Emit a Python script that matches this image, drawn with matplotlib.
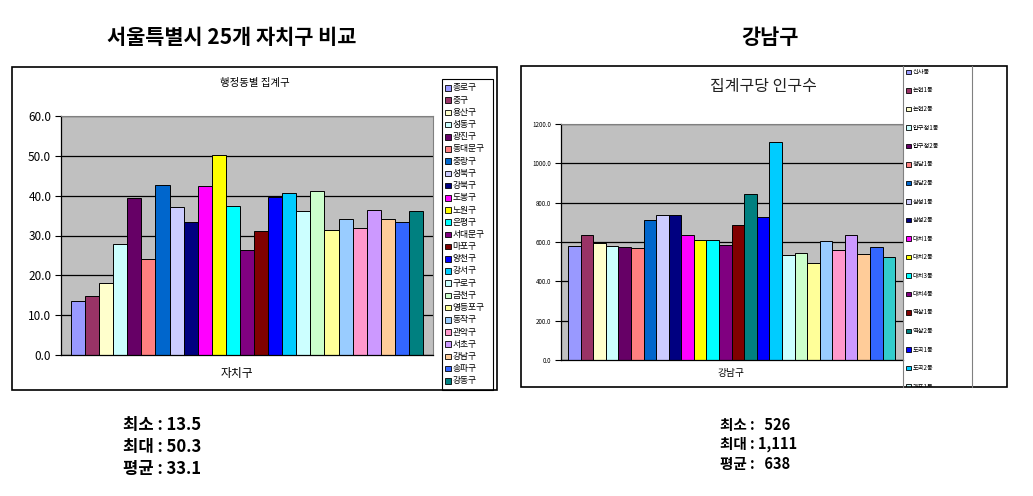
import matplotlib.pyplot as plt
from matplotlib.patches import Rectangle
import numpy as np

plt.rcParams['font.family'] = ['Noto Sans CJK KR', 'DejaVu Sans']

# 서울 25개 자치구 - 행정동별 집계구
gu_names = ['종로구', '중구', '용산구', '성동구', '광진구', '동대문구', '중랑구', '성북구',
            '강북구', '도봉구', '노원구', '은평구', '서대문구', '마포구', '양천구', '강서구',
            '구로구', '금천구', '영등포구', '동작구', '관악구', '서초구', '강남구', '송파구', '강동구']
gu_values = [13.5, 14.8, 18.0, 27.9, 39.4, 24.1, 42.8, 37.1, 33.3, 42.4, 50.3, 37.4, 26.4,
             31.1, 39.7, 40.6, 36.1, 41.1, 31.3, 34.1, 31.8, 36.3, 34.1, 33.3, 36.1]
gu_colors = ['#9999FF', '#993366', '#FFFFCC', '#CCFFFF', '#660066', '#FF8080', '#0066CC', '#CCCCFF',
             '#000080', '#FF00FF', '#FFFF00', '#00FFFF', '#800080', '#800000', '#0000FF', '#00CCFF',
             '#CCFFFF', '#CCFFCC', '#FFFF99', '#99CCFF', '#FF99CC', '#CC99FF', '#FFCC99', '#3366FF', '#008080']

# 강남구 26개 행정동 - 집계구당 인구수
dong_names = ['신사동', '논현1동', '논현2동', '압구정1동', '압구정2동', '청담1동', '청담2동', '삼성1동',
              '삼성2동', '대치1동', '대치2동', '대치3동', '대치4동', '역삼1동', '역삼2동', '도곡1동',
              '도곡2동', '개포1동', '개포2동', '개포3동', '개포4동', '일원본동', '일원1동', '일원2동',
              '수서동', '세곡동']
dong_values = [581, 636, 595, 580, 575, 568, 712, 737, 737, 636, 610, 610, 586, 686, 846, 729,
               1111, 534, 544, 493, 605, 559, 636, 541, 575, 526]
dong_colors = ['#9999FF', '#993366', '#FFFFCC', '#CCFFFF', '#660066', '#FF8080', '#0066CC', '#CCCCFF',
               '#000080', '#FF00FF', '#FFFF00', '#00FFFF', '#800080', '#800000', '#008080', '#0000FF',
               '#00CCFF', '#CCFFFF', '#CCFFCC', '#FFFF99', '#99CCFF', '#FF99CC', '#CC99FF', '#FFCC99',
               '#3366FF', '#33CCCC']

left_stats = ['최소 : 13.5', '최대 : 50.3', '평균 : 33.1']
right_stats = ['최소 :   526', '최대 : 1,111', '평균 :   638']

W, H = 1033, 496
fig = plt.figure(figsize=(W / 100, H / 100), dpi=100)


def rect(x0, y0, x1, y1):
    return [x0 / W, 1 - y1 / H, (x1 - x0) / W, (y1 - y0) / H]


def box(x0, y0, x1, y1, lw=1.2, ec='black'):
    fig.patches.append(Rectangle((x0 / W, 1 - y1 / H), (x1 - x0) / W, (y1 - y0) / H,
                                 transform=fig.transFigure, fill=False, ec=ec, lw=lw))


def vline(x, y0, y1, color='#808080', lw=0.8):
    fig.add_artist(plt.Line2D([x / W, x / W], [1 - y0 / H, 1 - y1 / H],
                              transform=fig.transFigure, color=color, lw=lw))


def bar_chart(ax, values, colors, ymax, step, fsize, pad_l, pad_r):
    n = len(values)
    x = np.arange(n)
    ax.set_facecolor('#C0C0C0')
    ax.set_axisbelow(True)
    ax.yaxis.grid(True, color='black', lw=0.9)
    ax.bar(x, values, width=1.0, color=colors, edgecolor='black', lw=0.7)
    ax.set_xlim(-0.5 - pad_l, n - 0.5 + pad_r)
    ax.set_ylim(0, ymax)
    ax.set_yticks(np.arange(0, ymax + step / 2, step))
    ax.set_yticklabels(['%.1f' % v for v in np.arange(0, ymax + step / 2, step)], fontsize=fsize)
    ax.set_xticks([])
    ax.tick_params(axis='y', direction='out', length=4, width=0.8, pad=3)
    for s in ['top', 'right']:
        ax.spines[s].set_color('#808080')
        ax.spines[s].set_linewidth(0.8)
    ax.spines['left'].set_linewidth(0.9)
    ax.spines['bottom'].set_linewidth(0.9)


def legend(x0, y0, x1, y1, names, colors, first_y, spacing, sq, fsize):
    lax = fig.add_axes(rect(x0, y0, x1, y1))
    lax.set_xlim(0, x1 - x0)
    lax.set_ylim(y1 - y0, 0)
    lax.axis('off')
    for i, (nm, c) in enumerate(zip(names, colors)):
        y = first_y + i * spacing
        if y > (y1 - y0) + sq:
            break  # 범례 상자 밖은 잘림
        lax.add_patch(Rectangle((3, y - sq / 2), sq, sq, fc=c, ec='black', lw=0.6, clip_on=True))
        lax.text(3 + sq + 2, y, nm, fontsize=fsize, va='center', ha='left', clip_on=True)


# ---------------- 왼쪽 : 서울특별시 ----------------
fig.text(232 / W, 1 - 38 / H, '서울특별시 25개 자치구 비교', fontsize=15, fontweight='bold',
         ha='center', va='center')
box(12, 67, 497, 390)
ax1 = fig.add_axes(rect(61, 116, 433, 355))
bar_chart(ax1, gu_values, gu_colors, 60, 10, 8.5, 0.71, 0.71)
fig.text(255 / W, 1 - 83 / H, '행정동별 집계구', fontsize=7.5, ha='center', va='center')
fig.text(237 / W, 1 - 373 / H, '자치구', fontsize=8.5, ha='center', va='center')
box(442, 79, 493, 390, lw=0.8)
legend(442, 79, 493, 390, gu_names, gu_colors, 9, 12.2, 5.5, 6.3)

for i, t in enumerate(left_stats):
    fig.text(123 / W, 1 - (425 + 22 * i) / H, t, fontsize=12, fontweight='bold', ha='left', va='center')

# ---------------- 오른쪽 : 강남구 ----------------
fig.text(770 / W, 1 - 38 / H, '강남구', fontsize=15, fontweight='bold', ha='center', va='center')
box(521, 66, 1007, 387)
ax2 = fig.add_axes(rect(561, 124, 903, 360))
bar_chart(ax2, dong_values, dong_colors, 1200, 200, 4.5, 0.56, 0.62)
ax2.spines['right'].set_visible(False)
fig.text(763 / W, 1 - 86 / H, '집계구당 인구수', fontsize=11.5, ha='center', va='center', color='#222222')
fig.text(731 / W, 1 - 373 / H, '강남구', fontsize=7, ha='center', va='center')
legend(903, 66, 972, 387, dong_names, dong_colors, 6, 18.5, 4.5, 4.5)
vline(903, 66, 387)
vline(972, 66, 387)

for i, t in enumerate(right_stats):
    fig.text(720 / W, 1 - (425 + 19.5 * i) / H, t, fontsize=10.5, fontweight='bold', ha='left', va='center')

fig.savefig('out.png', dpi=100)
